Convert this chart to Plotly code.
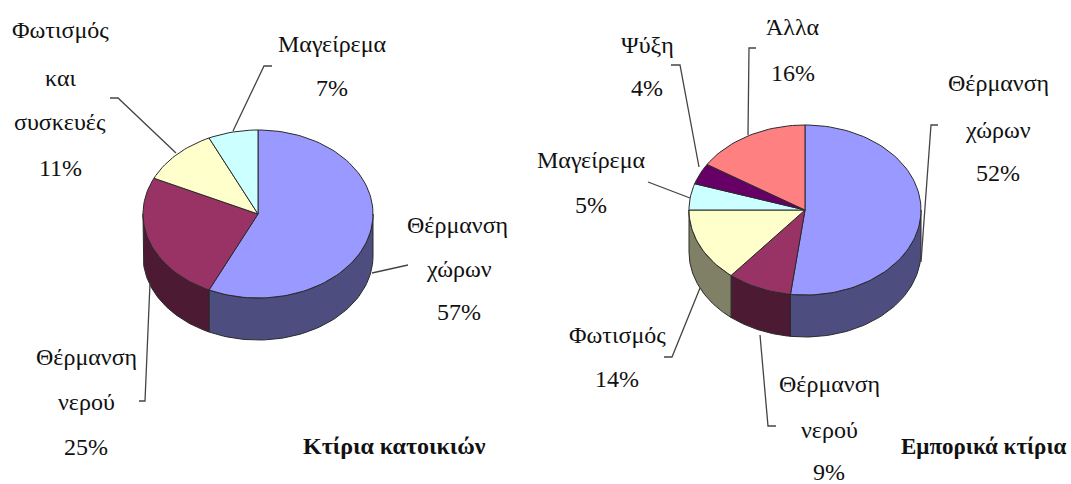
import math
import plotly.graph_objects as go

# Data
res_categories = ["Θέρμανση χώρων", "Θέρμανση νερού", "Φωτισμός και συσκευές", "Μαγείρεμα"]
res_values = [57, 25, 11, 7]
res_top = ["#9999FF", "#993366", "#FFFFCC", "#CCFFFF"]
res_side = ["#4D4D80", "#4D1A33", "#808066", "#668080"]

com_categories = ["Θέρμανση χώρων", "Θέρμανση νερού", "Φωτισμός", "Μαγείρεμα", "Ψύξη", "Άλλα"]
com_values = [52, 9, 14, 5, 4, 16]
com_top = ["#9999FF", "#993366", "#FFFFCC", "#CCFFFF", "#660066", "#FF8080"]
com_side = ["#4D4D80", "#4D1A33", "#808066", "#668080", "#330033", "#804040"]

OUTLINE = "#2a2a2a"
LEADER = "#444444"
FONT = "Liberation Serif"

fig = go.Figure()


def pt(cx, cy, rx, ry, deg, dy=0):
    a = math.radians(deg)
    return cx + rx * math.sin(a), cy - ry * math.cos(a) + dy


def poly(xs, ys, fill):
    fig.add_trace(go.Scatter(x=xs, y=ys, mode="lines", fill="toself", fillcolor=fill,
                             line=dict(color=OUTLINE, width=1), hoverinfo="skip", showlegend=False))


def pie3d(values, top, side, cx, cy, rx, ry, depth):
    total = sum(values)
    edges = [0]
    for v in values:
        edges.append(edges[-1] + v / total * 360)
    # side walls: only the front half of the rim (90..270 degrees clockwise from top)
    for i in range(len(values)):
        a0, a1 = max(edges[i], 90), min(edges[i + 1], 270)
        if a1 <= a0:
            continue
        angs = [a0 + (a1 - a0) * k / 60 for k in range(61)]
        upper = [pt(cx, cy, rx, ry, a) for a in angs]
        lower = [pt(cx, cy, rx, ry, a, depth) for a in reversed(angs)]
        pts = upper + lower + [upper[0]]
        poly([p[0] for p in pts], [p[1] for p in pts], side[i])
    # top face
    for i in range(len(values)):
        a0, a1 = edges[i], edges[i + 1]
        n = max(4, int((a1 - a0) / 2))
        pts = [(cx, cy)] + [pt(cx, cy, rx, ry, a0 + (a1 - a0) * k / n) for k in range(n + 1)] + [(cx, cy)]
        poly([p[0] for p in pts], [p[1] for p in pts], top[i])


pie3d(res_values, res_top, res_side, 258, 214, 115, 84, 42)
pie3d(com_values, com_top, com_side, 805, 210, 116, 85, 42)

leaders = [
    [(272, 66), (264, 66), (233, 131)],
    [(110, 98), (118, 98), (176, 153)],
    [(408, 265), (372, 273)],
    [(150, 283), (145, 401), (139, 401)],
    [(938, 125), (931, 125), (921, 262)],
    [(756, 48), (749, 48), (748, 135)],
    [(671, 65), (680, 65), (699, 167)],
    [(648, 182), (690, 198)],
    [(700, 288), (672, 357), (664, 357)],
    [(760, 335), (768, 426), (776, 426)],
]
for line in leaders:
    fig.add_trace(go.Scatter(x=[p[0] for p in line], y=[p[1] for p in line], mode="lines",
                             line=dict(color=LEADER, width=1.3), hoverinfo="skip", showlegend=False))

labels = [
    ("Φωτισμός", 60, 30), ("και", 60, 78), ("συσκευές", 60, 122), ("11%", 60, 168),
    ("Μαγείρεμα", 332, 44), ("7%", 332, 88),
    ("Θέρμανση", 457, 225), ("χώρων", 459, 269), ("57%", 459, 312),
    ("Θέρμανση", 86, 357), ("νερού", 86, 402), ("25%", 86, 447),
    ("Θέρμανση", 998, 83), ("χώρων", 998, 130), ("52%", 998, 173),
    ("Άλλα", 793, 27), ("16%", 793, 73),
    ("Ψύξη", 647, 45), ("4%", 647, 88),
    ("Μαγείρεμα", 591, 160), ("5%", 591, 205),
    ("Φωτισμός", 617, 335), ("14%", 617, 379),
    ("Θέρμανση", 829, 384), ("νερού", 829, 430), ("9%", 829, 472),
]
titles = [("Κτίρια κατοικιών", 394, 446, 24), ("Εμπορικά κτίρια", 984, 446, 23)]

annotations = [dict(x=x, y=y, text=t, showarrow=False, xanchor="center", yanchor="middle",
                    font=dict(family=FONT, size=24, color="#111111")) for t, x, y in labels]
annotations += [dict(x=x, y=y, text="<b>%s</b>" % t, showarrow=False, xanchor="center", yanchor="middle",
                     font=dict(family=FONT, size=s, color="#111111")) for t, x, y, s in titles]

fig.update_layout(
    width=1071, height=484, margin=dict(l=0, r=0, t=0, b=0),
    paper_bgcolor="white", plot_bgcolor="white", showlegend=False,
    xaxis=dict(range=[0, 1071], visible=False, fixedrange=True),
    yaxis=dict(range=[484, 0], visible=False, fixedrange=True),
    annotations=annotations,
)
fig.write_html("out.html", config={"displayModeBar": False},
               post_script="document.body.style.margin='0';document.body.style.overflow='hidden';")
